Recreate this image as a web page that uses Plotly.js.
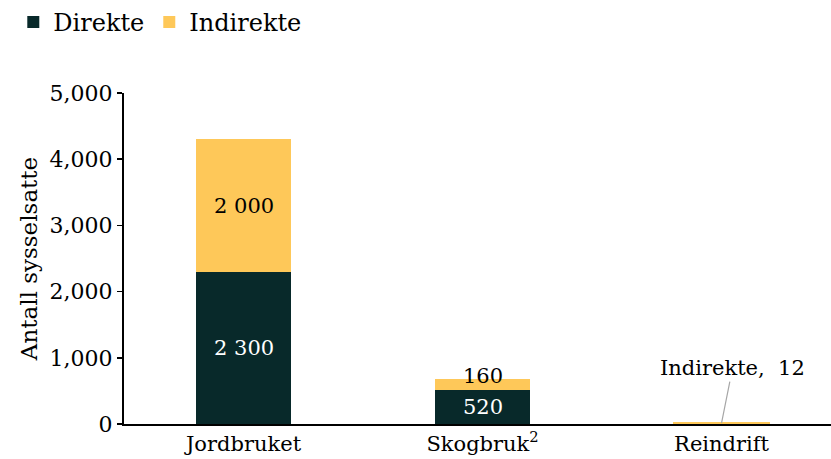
<!DOCTYPE html>
<html><head><meta charset="utf-8">
<script src="https://cdn.plot.ly/plotly-3.0.1.min.js"></script>
<style>html,body{margin:0;padding:0;background:#fff}#chart{width:831px;height:459px}</style>
</head><body><div id="chart"></div>
<script>
const categories = ['Jordbruket', 'Skogbruk<sup>2</sup>', 'Reindrift'];
const direkte = [2300, 520, null];
const indirekte = [2000, 160, 12];
const yTicks = [0, 1000, 2000, 3000, 4000, 5000];

const FONT = 'DejaVu Serif, Georgia, serif';
const DARK = '#08292a';
const YELLOW = '#fec859';
const fmt = v => String(v).replace(/\B(?=(\d{3})+(?!\d))/g, ' ');

const traces = [
  {type:'bar', name:'Direkte', x:categories, y:direkte, marker:{color:DARK}, width:0.4, hoverinfo:'none'},
  {type:'bar', name:'Indirekte', x:categories, y:indirekte, marker:{color:YELLOW, line:{color:YELLOW, width:[0,0,2]}}, width:0.4, hoverinfo:'none'}
];

const annotations = [];
[0,1].forEach(i => {
  annotations.push({x:categories[i], y:direkte[i]/2, text:fmt(direkte[i]), showarrow:false,
    font:{family:FONT, size:21, color:'#ffffff'}, xref:'x', yref:'y'});
  annotations.push({x:categories[i], y:direkte[i]+indirekte[i]/2, text:fmt(indirekte[i]), showarrow:false,
    yshift: i === 1 ? 8 : 0,
    font:{family:FONT, size:21, color:'#000000'}, xref:'x', yref:'y'});
});
annotations.push({x:categories[2], y:indirekte[2], text:'Indirekte,  ' + fmt(indirekte[2]),
  showarrow:true, arrowhead:0, arrowwidth:1.2, arrowcolor:'#a6a6a6', ax:11, ay:-55, standoff:0,
  font:{family:FONT, size:21, color:'#000000'}, xref:'x', yref:'y'});

const layout = {
  width:831, height:459,
  margin:{l:124, r:0, t:93, b:35, pad:0},
  barmode:'stack',
  paper_bgcolor:'#fff', plot_bgcolor:'#fff',
  font:{family:FONT, size:21, color:'#000'},
  showlegend:true,
  legend:{orientation:'h', x:0.016, xref:'container', y:1, yref:'container', yanchor:'top', xanchor:'left',
    font:{family:FONT, size:24}, tracegroupgap:0, traceorder:'normal'},
  xaxis:{range:[-0.5, 2.458], showline:true, linecolor:'#000', linewidth:2, ticks:'', showgrid:false,
    zeroline:false, tickfont:{family:FONT, size:21}, fixedrange:true},
  yaxis:{range:[0,5000], tickvals:yTicks, tickformat:',', showline:true, linecolor:'#000', linewidth:2,
    ticks:'outside', ticklen:5, tickwidth:1.5, tickcolor:'#000', showgrid:false, zeroline:false,
    tickfont:{family:FONT, size:22},
    title:{text:'Antall sysselsatte', font:{family:FONT, size:23}, standoff:6}},
  annotations: annotations
};
Plotly.newPlot('chart', traces, layout, {displayModeBar:false, staticPlot:true});
</script></body></html>
